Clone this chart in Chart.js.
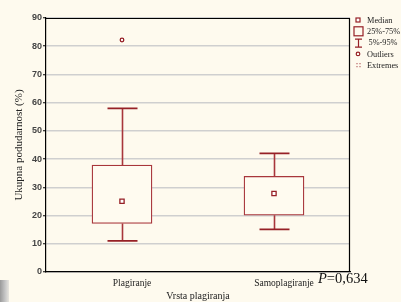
<!DOCTYPE html>
<html lang="hr">
<head>
  <meta charset="UTF-8">
  <title>Ukupna podudarnost</title>
  <script src="https://cdn.jsdelivr.net/npm/chart.js"></script>
  <style>
    html, body { margin: 0; padding: 0; background: #fefaee; }
    #wrap { position: relative; width: 401px; height: 302px; }
    #scan { position: absolute; left: 0; top: 280px; width: 9px; height: 22px;
            background: linear-gradient(90deg, #9a9a9a, #c8c8c8 60%, #e8e6df); }
  </style>
</head>
<body>
  <div id="wrap">
    <canvas id="chart" width="401" height="302"></canvas>
    <div id="scan"></div>
  </div>

  <script>
    // podaci
    const categories = ['Plagiranje', 'Samoplagiranje'];
    const median = [25.1, 27.8];
    const q1 = [17.2, 20.1];
    const q3 = [37.9, 33.9];
    const p5 = [11.0, 15.1];
    const p95 = [58.0, 42.0];
    const outliers = [82.2, null];
    const yTicks = [0, 10, 20, 30, 40, 50, 60, 70, 80, 90];
    const legendItems = ['Median', '25%-75%', '5%-95%', 'Outliers', 'Extremes'];
    const pText = '0,634';

    const red = '#a8363b';
    const dark = '#962026';
    const paper = '#fffbf0';

    // brkovi, okvir, legenda i P vrijednost
    const boxExtras = {
      id: 'boxExtras',
      beforeDatasetsDraw(chart) {
        const ctx = chart.ctx;
        const x = chart.scales.x, y = chart.scales.y;
        ctx.save();
        categories.forEach((c, i) => {
          const cx = Math.round(x.getPixelForValue(i)) + 0.5;
          ctx.strokeStyle = red;
          ctx.lineWidth = 1.6;
          ctx.beginPath();
          ctx.moveTo(cx, y.getPixelForValue(q3[i]));
          ctx.lineTo(cx, y.getPixelForValue(p95[i]));
          ctx.moveTo(cx, y.getPixelForValue(q1[i]));
          ctx.lineTo(cx, y.getPixelForValue(p5[i]));
          ctx.stroke();
          ctx.strokeStyle = dark;
          ctx.lineWidth = 1.8;
          ctx.beginPath();
          [p95[i], p5[i]].forEach(v => {
            const py = y.getPixelForValue(v);
            ctx.moveTo(cx - 15, py);
            ctx.lineTo(cx + 15, py);
          });
          ctx.stroke();
        });
        ctx.restore();
      },
      afterDraw(chart) {
        const ctx = chart.ctx;
        const a = chart.chartArea;
        ctx.save();
        ctx.strokeStyle = '#000';
        ctx.lineWidth = 1.2;
        ctx.beginPath();
        ctx.moveTo(a.left, a.top + 0.5);
        ctx.lineTo(a.right - 0.5, a.top + 0.5);
        ctx.lineTo(a.right - 0.5, a.bottom);
        ctx.stroke();

        // legenda
        const lx = a.right + 8;
        const tx = a.right + 17;
        ctx.font = '8.3px "Liberation Serif"';
        ctx.fillStyle = '#222';
        ctx.textBaseline = 'middle';
        legendItems.forEach((t, k) => {
          const ly = 20.5 + k * 11.3;
          ctx.fillText(t, k === 2 ? tx + 1.5 : tx, ly);
          ctx.strokeStyle = dark;
          ctx.fillStyle = dark;
          ctx.lineWidth = 1.2;
          if (k === 0) {
            ctx.fillStyle = '#fff';
            ctx.fillRect(lx - 2, ly - 2.5, 4, 4);
            ctx.strokeRect(lx - 2, ly - 2.5, 4, 4);
          } else if (k === 1) {
            ctx.strokeRect(lx - 4, ly - 5, 9, 9);
          } else if (k === 2) {
            ctx.beginPath();
            ctx.moveTo(lx - 3, ly - 4); ctx.lineTo(lx + 4, ly - 4);
            ctx.moveTo(lx + 0.5, ly - 4); ctx.lineTo(lx + 0.5, ly + 4);
            ctx.moveTo(lx - 3, ly + 4); ctx.lineTo(lx + 4, ly + 4);
            ctx.stroke();
          } else if (k === 3) {
            ctx.beginPath();
            ctx.arc(lx, ly - 0.5, 1.8, 0, Math.PI * 2);
            ctx.stroke();
          } else {
            ctx.fillRect(lx - 1.5, ly - 2.5, 1, 1);
            ctx.fillRect(lx - 1.5, ly + 0.5, 1, 1);
            ctx.fillRect(lx + 1.5, ly - 2.5, 1, 1);
            ctx.fillRect(lx + 1.5, ly + 0.5, 1, 1);
          }
          ctx.fillStyle = '#222';
        });

        // P vrijednost
        ctx.fillStyle = '#111';
        ctx.textBaseline = 'alphabetic';
        ctx.font = 'italic 14.5px "Liberation Serif"';
        ctx.fillText('P', 318, 283);
        const pw = ctx.measureText('P').width;
        ctx.font = '14.5px "Liberation Serif"';
        ctx.fillText('=' + pText, 318 + pw, 283);
        ctx.restore();
      }
    };

    new Chart(document.getElementById('chart'), {
      type: 'bar',
      data: {
        labels: categories,
        datasets: [
          {
            type: 'line',
            label: 'Outliers',
            data: outliers,
            showLine: false,
            pointStyle: 'circle',
            pointRadius: 1.8,
            borderWidth: 1.3,
            borderColor: dark,
            backgroundColor: '#fff',
            order: 0
          },
          {
            type: 'line',
            label: 'Median',
            data: median,
            showLine: false,
            pointStyle: 'rect',
            pointRadius: 3,
            borderWidth: 1.3,
            borderColor: dark,
            backgroundColor: '#fff',
            order: 1
          },
          {
            label: '25%-75%',
            data: q1.map((v, i) => [v, q3[i]]),
            backgroundColor: paper,
            borderColor: red,
            borderWidth: 1.3,
            borderSkipped: false,
            barThickness: 60,
            grouped: false,
            order: 2
          }
        ]
      },
      options: {
        responsive: false,
        animation: false,
        layout: { padding: { top: 18, right: 51, bottom: 0, left: 0 } },
        plugins: { legend: { display: false }, tooltip: { enabled: false } },
        scales: {
          x: {
            offset: true,
            afterFit(s) { s.height = 30; },
            grid: { display: false, drawTicks: false },
            border: { color: '#000', width: 1.2 },
            ticks: {
              padding: 6,
              labelOffset: 10,
              color: '#222',
              font: { family: 'Liberation Serif', size: 9.5 }
            },
            title: {
              display: true,
              text: 'Vrsta plagiranja',
              color: '#222',
              padding: { top: 0, bottom: 0 },
              font: { family: 'Liberation Serif', size: 10 }
            }
          },
          y: {
            min: 0,
            max: 90,
            afterFit(s) { s.width = 46; },
            afterBuildTicks(s) { s.ticks = yTicks.map(v => ({ value: v })); },
            grid: { color: '#cfcfcf', lineWidth: 1.5, tickColor: '#000', tickLength: 3, tickWidth: 1 },
            border: { color: '#000', width: 1.2 },
            ticks: {
              padding: 1,
              color: '#444',
              font: { family: 'Liberation Sans', size: 9, weight: 'bold' }
            },
            title: {
              display: true,
              text: 'Ukupna podudarnost (%)',
              color: '#222',
              padding: { top: 13, bottom: 0 },
              font: { family: 'Liberation Serif', size: 11 }
            }
          }
        }
      },
      plugins: [boxExtras]
    });
  </script>
</body>
</html>
